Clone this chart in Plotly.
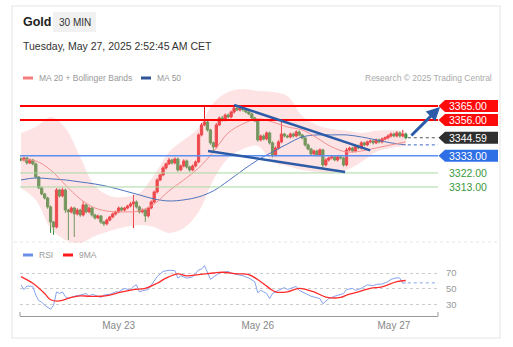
import plotly.graph_objects as go

# ---------------- data ----------------
closes = [
    3330.3, 3331.6, 3328.4, 3330.3, 3327.8, 3319.4, 3312.4, 3308.5, 3305.9, 3300.2,
    3290.5, 3287.3, 3311.1, 3307.2, 3311.1, 3298.2, 3297.0, 3299.5, 3295.7, 3298.2,
    3295.0, 3301.5, 3297.0, 3299.5, 3295.0, 3293.1, 3294.4, 3290.5, 3289.3, 3291.8,
    3293.8, 3295.7, 3297.0, 3299.5, 3298.2, 3299.5, 3300.8, 3302.1, 3303.4, 3300.2,
    3297.0, 3298.2, 3294.4, 3299.5, 3303.4, 3309.8, 3317.5, 3320.7, 3325.2, 3327.8,
    3330.3, 3328.4, 3331.0, 3323.9, 3326.5, 3329.7, 3325.8, 3323.9, 3326.5, 3329.1,
    3346.4, 3352.8, 3354.7, 3349.6, 3341.3, 3338.7, 3352.8, 3357.3, 3356.0, 3359.2,
    3357.9, 3361.1, 3363.7, 3362.4, 3363.7, 3362.4, 3361.1, 3359.9, 3357.3, 3355.4,
    3343.2, 3345.7, 3343.8, 3347.7, 3341.3, 3333.5, 3338.0, 3341.9, 3347.0, 3345.7,
    3345.1, 3347.0, 3345.7, 3348.3, 3346.4, 3344.5, 3340.0, 3337.4, 3334.2, 3336.1,
    3333.5, 3336.8, 3327.1, 3330.3, 3331.6, 3332.3, 3330.3, 3332.3, 3331.6, 3327.1,
    3336.8, 3338.0, 3336.1, 3339.3, 3338.0, 3341.3, 3340.0, 3341.9, 3342.5, 3341.3,
    3343.2, 3341.9, 3343.8, 3344.5, 3345.7, 3347.0, 3345.7, 3347.7, 3345.7, 3347.0,
    3344.59,
]
first_open = 3331.0
wick_up = [
    1.0, 0.8, 0.6, 0.9, 0.7, 0.8, 0.6, 1.0, 0.7, 0.8,
    0.9, 0.7, 1.2, 0.8, 1.5, 0.9, 0.7, 1.0, 0.8, 1.2,
    0.8, 2.2, 0.9, 1.0, 0.7, 0.8, 0.9, 0.6, 0.8, 1.0,
    0.7, 0.9, 0.8, 1.0, 0.9, 0.7, 0.8, 1.2, 4.5, 1.0,
    0.8, 1.0, 0.9, 0.8, 1.0, 0.9, 1.0, 0.8, 1.2, 0.9,
    1.4, 0.8, 1.0, 0.9, 0.8, 1.1, 0.9, 0.8, 1.0, 0.9,
    1.0, 1.3, 9.7, 1.0, 0.8, 0.9, 1.2, 1.0, 1.3, 0.9,
    1.0, 0.9, 1.1, 0.8, 1.0, 0.7, 0.9, 0.8, 0.9, 0.8,
    1.0, 0.9, 1.1, 1.0, 0.8, 0.9, 1.0, 1.2, 7.7, 0.8,
    0.9, 1.0, 0.8, 1.1, 0.9, 0.7, 0.8, 0.9, 0.7, 0.9,
    0.8, 1.0, 0.7, 1.2, 0.9, 0.8, 0.9, 0.8, 1.0, 0.7,
    1.3, 0.9, 0.8, 1.0, 0.9, 1.1, 0.8, 0.9, 1.0, 0.8,
    0.9, 0.8, 1.0, 0.9, 1.1, 1.0, 0.9, 1.2, 1.0, 2.6,
    0.8,
]
wick_dn = [
    0.8, 0.9, 1.0, 0.7, 0.9, 1.0, 0.8, 0.9, 1.0, 1.2,
    7.0, 5.0, 0.9, 1.0, 0.8, 2.0, 18.0, 0.9, 14.8, 1.0,
    1.2, 0.9, 1.0, 0.8, 1.1, 1.0, 0.8, 1.2, 1.3, 0.9,
    0.8, 0.9, 1.0, 0.8, 0.9, 1.0, 0.8, 0.9, 15.4, 1.0,
    1.1, 0.9, 3.9, 1.0, 0.8, 0.9, 1.0, 0.8, 0.9, 1.0,
    0.8, 1.0, 0.9, 1.2, 0.8, 0.9, 1.0, 1.1, 0.8, 0.9,
    0.9, 1.0, 0.8, 1.0, 1.2, 3.2, 0.9, 0.8, 1.0, 0.9,
    0.8, 0.9, 1.0, 0.8, 0.9, 1.0, 0.8, 0.9, 1.0, 0.8,
    1.2, 1.0, 0.9, 0.8, 1.1, 1.5, 0.9, 1.0, 0.8, 0.9,
    0.8, 0.9, 1.0, 0.8, 0.9, 1.0, 1.1, 0.9, 1.0, 0.8,
    1.0, 0.9, 1.5, 0.8, 1.0, 0.9, 0.8, 1.0, 0.9, 1.0,
    0.9, 0.8, 1.0, 0.9, 0.8, 1.0, 0.9, 0.8, 0.9, 1.0,
    0.8, 0.9, 1.0, 0.8, 0.9, 1.0, 0.8, 0.9, 1.0, 0.9,
    1.0,
]

ma_idx = [0, 5, 10, 15, 20, 25, 30, 35, 40, 45, 50, 55, 60, 65, 70, 75, 80, 85,
          90, 95, 100, 105, 110, 115, 120, 125, 130]
ma20 = [3330.3, 3329.7, 3323.9, 3314.3, 3305.3, 3299.5, 3297.3, 3297.0, 3297.6,
        3302.1, 3310.5, 3317.5, 3325.2, 3335.5, 3347.7, 3353.5, 3356.7, 3354.7,
        3351.5, 3349.6, 3344.5, 3338.7, 3335.5, 3336.1, 3338.0, 3340.0, 3341.9]
bb_upper = [3347.7, 3351.5, 3357.9, 3350.9, 3332.3, 3313.7, 3307.2, 3306.6, 3309.2,
            3320.7, 3335.5, 3343.2, 3350.9, 3366.9, 3374.0, 3375.9, 3374.6, 3374.0,
            3371.4, 3358.6, 3352.8, 3350.2, 3349.0, 3347.7, 3349.0, 3349.6, 3348.3]
bb_lower = [3312.4, 3304.7, 3286.7, 3279.0, 3277.1, 3281.6, 3284.8, 3287.3, 3288.6,
            3287.3, 3283.5, 3286.7, 3297.0, 3317.5, 3331.6, 3337.4, 3339.3, 3329.1,
            3326.5, 3323.9, 3322.6, 3322.0, 3323.9, 3329.1, 3335.5, 3338.0, 3339.3]
ma50 = [3317.5, 3318.8, 3318.2, 3317.5, 3316.2, 3314.9, 3313.0, 3310.5, 3307.9,
        3305.3, 3304.0, 3304.7, 3306.6, 3310.5, 3316.9, 3323.9, 3330.3, 3335.5,
        3340.6, 3345.1, 3346.4, 3346.4, 3346.4, 3345.1, 3343.2, 3341.3, 3340.0]

rsi_idx = [0, 1, 2, 4, 5, 6, 7, 8, 10, 11, 12, 13, 14, 15, 16, 18, 20, 22, 23, 24,
           26, 27, 28, 30, 32, 33, 35, 37, 38, 39, 40, 41, 43, 45, 46, 48, 50, 52, 53, 54,
           56, 58, 60, 61, 62, 64, 66, 67, 70, 71, 73, 75, 77, 79, 80, 81, 82, 83, 84, 85,
           87, 89, 90, 92, 93, 94, 96, 98, 99, 101, 102, 104, 106, 107, 109, 110, 112, 113,
           115, 117, 119, 120, 122, 124, 125, 127, 128, 129, 130]
rsi_val = [55, 49, 53.5, 53, 42, 35, 33, 29, 24, 29, 46, 44, 46, 40, 37.5, 40.5, 42, 44, 40.5, 43,
           40.5, 39, 42, 43, 46, 46, 50.5, 48, 53, 55, 46, 47.5, 49, 61, 65.5, 72, 73.5, 73, 63.5, 66.5,
           63.5, 65, 74, 75, 79.5, 62, 68, 70, 72, 70, 68, 66.5, 63.5, 59, 45, 48, 46, 44, 37.5, 44,
           48, 51.5, 49, 51.5, 53, 48, 44, 40.5, 39.5, 37.5, 31, 37.5, 40.5, 42, 44, 49, 50.5, 48,
           50.5, 55, 54, 55.5, 56, 59, 62, 64, 63.5, 57, 57.5]
rsi_ma_idx = [0, 4, 8, 10, 13, 17, 20, 23, 27, 30, 33, 38, 42, 46, 49, 53, 56, 60, 65, 68,
              73, 77, 81, 84, 86, 90, 94, 99, 103, 108, 110, 113, 118, 122, 127, 130]
rsi_ma_val = [65.5, 57, 44, 36, 34.5, 39, 41, 40.5, 40.5, 42, 45, 49, 50.5, 57, 63.5, 69, 66.5, 68, 70, 71,
              69, 68, 59, 50.5, 46, 46, 50.5, 46, 39.5, 39, 42, 45, 50.5, 52.5, 59, 60.5]

resistance_levels = [3365.00, 3356.00]
pivot_level = 3333.00
support_levels = [3322.00, 3313.00]
last_price = 3344.59

trend_upper_x = [72.0, 118.0]
trend_upper_y = [3365.6, 3336.5]
trend_lower_x = [63.2, 109.5]
trend_lower_y = [3336.1, 3322.6]
arrow_x = [131.4, 141.6]
arrow_y = [3345.1, 3364.4]

tick_vals = [33, 80, 126]
tick_text = ["May 23", "May 26", "May 27"]
rsi_ticks = [30, 50, 70]

# ---------------- styling / layout helpers ----------------
W, H = 513, 347
L, R, T, B = 20, 438, 86, 316
PRICE_BOTTOM_PX = 245
RSI_TOP_PX = 262
FONT = "Liberation Sans, Arial, sans-serif"
RED_C = "#e8141b"
GREEN_C = "#2f8a35"
LINE_RED = "#ff0000"
BLUE_TL = "#2c5ba8"


def px(x):
    return (x - L) / (R - L)


def py(y):
    return (B - y) / (B - T)


x_range = [-0.34, 140.9]
price_range = [3275.75, 3377.8]
rsi_range = [15.4, 84]
price_per_px = (price_range[1] - price_range[0]) / (PRICE_BOTTOM_PX - T)

n = len(closes)
idx = list(range(n))
opens = [first_open] + closes[:-1]
highs = [max(o, c) + u for o, c, u in zip(opens, closes, wick_up)]
lows = [min(o, c) - d for o, c, d in zip(opens, closes, wick_dn)]

fig = go.Figure()

# Bollinger band
fig.add_trace(go.Scatter(x=ma_idx, y=bb_upper, mode="lines",
                         line=dict(width=0, shape="spline", smoothing=1),
                         hoverinfo="skip", showlegend=False))
fig.add_trace(go.Scatter(x=ma_idx, y=bb_lower, mode="lines",
                         line=dict(width=0, shape="spline", smoothing=1),
                         fill="tonexty", fillcolor="rgba(248,175,175,0.35)",
                         hoverinfo="skip", showlegend=False))
# MA50 and MA20
fig.add_trace(go.Scatter(x=ma_idx, y=ma50, mode="lines",
                         line=dict(color="#4f74bd", width=1, shape="spline", smoothing=1),
                         showlegend=False))
fig.add_trace(go.Scatter(x=ma_idx, y=ma20, mode="lines",
                         line=dict(color="#f39090", width=1, shape="spline", smoothing=1),
                         showlegend=False))
# candles
fig.add_trace(go.Candlestick(
    x=idx, open=opens, high=highs, low=lows, close=closes,
    increasing=dict(line=dict(color=RED_C, width=1), fillcolor=RED_C),
    decreasing=dict(line=dict(color=GREEN_C, width=1), fillcolor=GREEN_C),
    whiskerwidth=0, showlegend=False))

# dotted extensions
fig.add_trace(go.Scatter(x=[idx[-1] + 0.7, x_range[1]], y=[last_price, last_price],
                         mode="lines", line=dict(color="#555555", width=1, dash="dot"),
                         showlegend=False))
fig.add_trace(go.Scatter(x=[ma_idx[-1] + 0.7, x_range[1]], y=[ma50[-1], ma50[-1]],
                         mode="lines", line=dict(color="#3a64c0", width=1, dash="dot"),
                         showlegend=False))

# RSI panel
fig.add_trace(go.Scatter(x=rsi_idx, y=rsi_val, mode="lines", xaxis="x2", yaxis="y2",
                         line=dict(color="#86a3ee", width=1), showlegend=False))
fig.add_trace(go.Scatter(x=rsi_ma_idx, y=rsi_ma_val, mode="lines", xaxis="x2", yaxis="y2",
                         line=dict(color="#ff2a2a", width=1.3, shape="spline", smoothing=1),
                         showlegend=False))
fig.add_trace(go.Scatter(x=[rsi_idx[-1] + 0.7, x_range[1]], y=[rsi_val[-1], rsi_val[-1]],
                         mode="lines", xaxis="x2", yaxis="y2",
                         line=dict(color="#86a3ee", width=1, dash="dot"), showlegend=False))

shapes = []
annotations = []

# card border and separator
shapes.append(dict(type="rect", xref="paper", yref="paper", x0=px(12), x1=px(500),
                   y0=py(338), y1=py(6), line=dict(color="#e4e4e4", width=1),
                   fillcolor="rgba(0,0,0,0)", layer="below"))
shapes.append(dict(type="line", xref="paper", yref="paper", x0=px(14), x1=px(498),
                   y0=py(242), y1=py(242), line=dict(color="#e6e6e6", width=1, dash="dot"),
                   layer="below"))

# level lines
for lv in resistance_levels:
    shapes.append(dict(type="line", xref="paper", yref="y", x0=0, x1=1, y0=lv, y1=lv,
                       line=dict(color=LINE_RED, width=2), layer="above"))
shapes.append(dict(type="line", xref="paper", yref="y", x0=0, x1=1, y0=pivot_level,
                   y1=pivot_level, line=dict(color="#5b8ef0", width=1.5), layer="above"))
for lv in support_levels:
    shapes.append(dict(type="line", xref="paper", yref="y", x0=0, x1=1, y0=lv, y1=lv,
                       line=dict(color="#a9d8a2", width=1), layer="above"))

# trend lines
shapes.append(dict(type="line", xref="x", yref="y", x0=trend_upper_x[0], x1=trend_upper_x[1],
                   y0=trend_upper_y[0], y1=trend_upper_y[1],
                   line=dict(color=BLUE_TL, width=2.5), layer="above"))
shapes.append(dict(type="line", xref="x", yref="y", x0=trend_lower_x[0], x1=trend_lower_x[1],
                   y0=trend_lower_y[0], y1=trend_lower_y[1],
                   line=dict(color=BLUE_TL, width=2.5), layer="above"))


def add_tag(level, color):
    h = 6 * price_per_px
    xt, xl, xr = px(438.5), px(445), px(498)
    path = (f"M{xt},{level} L{xl},{level + h} L{xr},{level + h} "
            f"L{xr},{level - h} L{xl},{level - h} Z")
    shapes.append(dict(type="path", xref="paper", yref="y", path=path,
                       fillcolor=color, line=dict(width=0), layer="above"))
    annotations.append(dict(xref="paper", yref="y", x=px(447), y=level, xanchor="left",
                            yanchor="middle", text=f"{level:.2f}", showarrow=False,
                            font=dict(family=FONT, size=10.5, color="white")))


for lv in resistance_levels:
    add_tag(lv, "#ff0a0a")
add_tag(last_price, "#2e2e2e")
add_tag(pivot_level, "#2f6fe6")
for lv in support_levels:
    annotations.append(dict(xref="paper", yref="y", x=px(447), y=lv, xanchor="left",
                            yanchor="middle", text=f"{lv:.2f}", showarrow=False,
                            font=dict(family=FONT, size=10.5, color="#3c9a3c")))

# arrow
annotations.append(dict(x=arrow_x[1], y=arrow_y[1], ax=arrow_x[0], ay=arrow_y[0],
                        xref="x", yref="y", axref="x", ayref="y", text="",
                        showarrow=True, arrowhead=2, arrowsize=0.9, arrowwidth=3,
                        arrowcolor=BLUE_TL))

# header
shapes.append(dict(type="rect", xref="paper", yref="paper", x0=px(53), x1=px(96),
                   y0=py(32), y1=py(12), fillcolor="#f1f1f1", line=dict(width=0),
                   layer="below"))
annotations.append(dict(xref="paper", yref="paper", x=px(20.5), y=py(22), xanchor="left",
                        yanchor="middle", text="<b>Gold</b>", showarrow=False,
                        font=dict(family=FONT, size=12.5, color="#222222")))
annotations.append(dict(xref="paper", yref="paper", x=px(74.5), y=py(22), xanchor="center",
                        yanchor="middle", text="30 MIN", showarrow=False,
                        font=dict(family=FONT, size=10, color="#333333")))
annotations.append(dict(xref="paper", yref="paper", x=px(21), y=py(46), xanchor="left",
                        yanchor="middle", text="Tuesday, May 27, 2025 2:52:45 AM CET",
                        showarrow=False, font=dict(family=FONT, size=10.5, color="#333333")))

# legends
def legend_item(x_sw, y, color, label):
    shapes.append(dict(type="rect", xref="paper", yref="paper", x0=px(x_sw), x1=px(x_sw + 10),
                       y0=py(y + 1.5), y1=py(y - 1.5), fillcolor=color, line=dict(width=0)))
    annotations.append(dict(xref="paper", yref="paper", x=px(x_sw + 14), y=py(y),
                            xanchor="left", yanchor="middle", text=label, showarrow=False,
                            font=dict(family=FONT, size=8.5, color="#999999")))


legend_item(23, 78, "#f47c7c", "MA 20 + Bollinger Bands")
legend_item(141, 78, "#2f5597", "MA 50")
legend_item(23, 255, "#6b8ee8", "RSI")
legend_item(63, 255, "#ff1a1a", "9MA")
annotations.append(dict(xref="paper", yref="paper", x=px(494), y=py(77.5), xanchor="right",
                        yanchor="middle", text="Research © 2025 Trading Central",
                        showarrow=False, font=dict(family=FONT, size=8.5, color="#aaaaaa")))

# x axis end ticks
for xe in (0, 1):
    shapes.append(dict(type="line", xref="paper", yref="paper", x0=xe, x1=xe,
                       y0=py(316), y1=py(312), line=dict(color="#999999", width=1)))

fig.update_layout(
    width=W, height=H, autosize=False,
    margin=dict(l=L, r=W - R, t=T, b=H - B, pad=0),
    paper_bgcolor="white", plot_bgcolor="white",
    showlegend=False,
    font=dict(family=FONT),
    boxgap=0.15, boxgroupgap=0.1,
    xaxis=dict(domain=[0, 1], range=x_range, anchor="y", showticklabels=False,
               showgrid=False, zeroline=False, showline=False,
               rangeslider=dict(visible=False)),
    xaxis2=dict(domain=[0, 1], range=x_range, anchor="y2", tickvals=tick_vals,
                ticktext=tick_text, showgrid=False, zeroline=False, showline=True,
                linecolor="#999999", linewidth=1, ticks="",
                tickfont=dict(family=FONT, size=10, color="#888888")),
    yaxis=dict(domain=[py(PRICE_BOTTOM_PX), 1], range=price_range, showticklabels=False,
               showgrid=False, zeroline=False, showline=False),
    yaxis2=dict(domain=[0, py(RSI_TOP_PX)], range=rsi_range, side="right",
                tickvals=rsi_ticks, showgrid=True, gridcolor="#cccccc", griddash="dot",
                zeroline=False, showline=False, ticks="", ticklabelstandoff=7,
                tickfont=dict(family=FONT, size=9.5, color="#999999")),
    shapes=shapes,
    annotations=annotations,
)

fig.write_html("out.html")
